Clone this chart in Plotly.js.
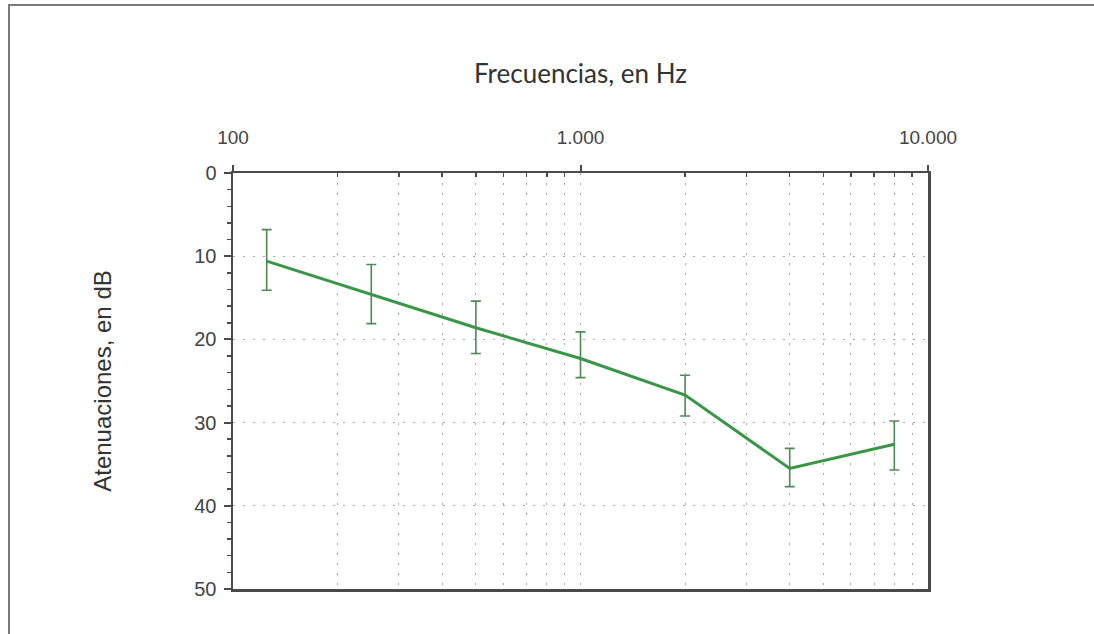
<!DOCTYPE html>
<html>
<head>
<meta charset="utf-8">
<script src="https://cdn.plot.ly/plotly-3.0.1.min.js"></script>
<style>
  html, body { margin: 0; padding: 0; background: #fff; overflow: hidden; }
  #wrap { position: relative; width: 1094px; height: 634px; overflow: hidden; }
  #chart { width: 1094px; height: 634px; }
  #frame { position: absolute; left: 8px; top: 4px; width: 1200px; height: 700px;
           border-top: 2px solid #7a7a7a; border-left: 2px solid #7a7a7a; pointer-events: none; }
</style>
</head>
<body>
<div id="wrap">
  <div id="chart"></div>
  <div id="frame"></div>
</div>
<script>
// Octave-band frequencies (Hz) and mean attenuation (dB) with spread
const frequencies = [125, 250, 500, 1000, 2000, 4000, 8000];
const attenuation = [10.6, 14.6, 18.6, 22.3, 26.7, 35.5, 32.6];
const spreadUp   = [3.8, 3.6, 3.2, 3.2, 2.4, 2.4, 2.8];   // toward smaller dB
const spreadDown = [3.5, 3.5, 3.1, 2.3, 2.5, 2.2, 3.1];   // toward larger dB

const majorTickVals = [100, 1000, 10000];
const majorTickText = ['100', '1.000', '10.000'];
const minorTickVals = [200, 300, 400, 500, 600, 700, 800, 900,
                       2000, 3000, 4000, 5000, 6000, 7000, 8000, 9000];

const axisColor = '#4a4a4a';
const gridColor = '#a8a8a8';
const gridDash = '1.5px,8.5px';

const trace = {
  x: frequencies,
  y: attenuation,
  type: 'scatter',
  mode: 'lines',
  line: { color: '#3a9647', width: 3 },
  error_y: {
    type: 'data',
    symmetric: false,
    array: spreadDown,
    arrayminus: spreadUp,
    color: '#4d8a57',
    thickness: 1.6,
    width: 5
  },
  hoverinfo: 'x+y'
};

const layout = {
  width: 1094,
  height: 634,
  margin: { l: 233, r: 166, t: 173, b: 45 },
  paper_bgcolor: '#ffffff',
  plot_bgcolor: '#ffffff',
  showlegend: false,
  xaxis: {
    type: 'log',
    side: 'top',
    range: [2, 4],
    tickmode: 'array',
    tickvals: majorTickVals,
    ticktext: majorTickText,
    ticks: 'outside',
    ticklen: 6,
    tickwidth: 2,
    tickcolor: axisColor,
    ticklabelstandoff: 13,
    tickfont: { family: 'Liberation Sans, Arial, sans-serif', size: 19, color: '#444' },
    showline: true,
    linecolor: axisColor,
    linewidth: 2.5,
    mirror: true,
    showgrid: true,
    gridcolor: gridColor,
    griddash: gridDash,
    gridwidth: 1,
    zeroline: false,
    minor: {
      tickmode: 'array',
      tickvals: minorTickVals,
      ticks: 'inside',
      ticklen: 4,
      tickwidth: 1.5,
      tickcolor: axisColor,
      showgrid: true,
      gridcolor: gridColor,
      griddash: gridDash,
      gridwidth: 1
    },
    title: {
      text: 'Frecuencias, en Hz',
      font: { family: 'Lato, "Open Sans", sans-serif', size: 26, color: '#333' },
      standoff: 36
    },
    automargin: false
  },
  yaxis: {
    range: [50, 0],
    tickmode: 'linear',
    tick0: 0,
    dtick: 10,
    ticks: 'outside',
    ticklen: 7,
    tickwidth: 2,
    tickcolor: axisColor,
    ticklabelstandoff: 3,
    tickfont: { family: 'Liberation Sans, Arial, sans-serif', size: 20, color: '#444' },
    showline: true,
    linecolor: axisColor,
    linewidth: 2.5,
    mirror: true,
    showgrid: true,
    gridcolor: gridColor,
    griddash: gridDash,
    gridwidth: 1,
    zeroline: false,
    minor: {
      dtick: 2,
      ticks: 'outside',
      ticklen: 4,
      tickwidth: 1.5,
      tickcolor: axisColor,
      showgrid: false
    },
    title: {
      text: 'Atenuaciones, en dB',
      font: { family: 'Liberation Sans, Arial, sans-serif', size: 24, color: '#333' },
      standoff: 76
    },
    automargin: false
  }
};

Plotly.newPlot('chart', [trace], layout, { displayModeBar: false, staticPlot: true });
</script>
</body>
</html>
